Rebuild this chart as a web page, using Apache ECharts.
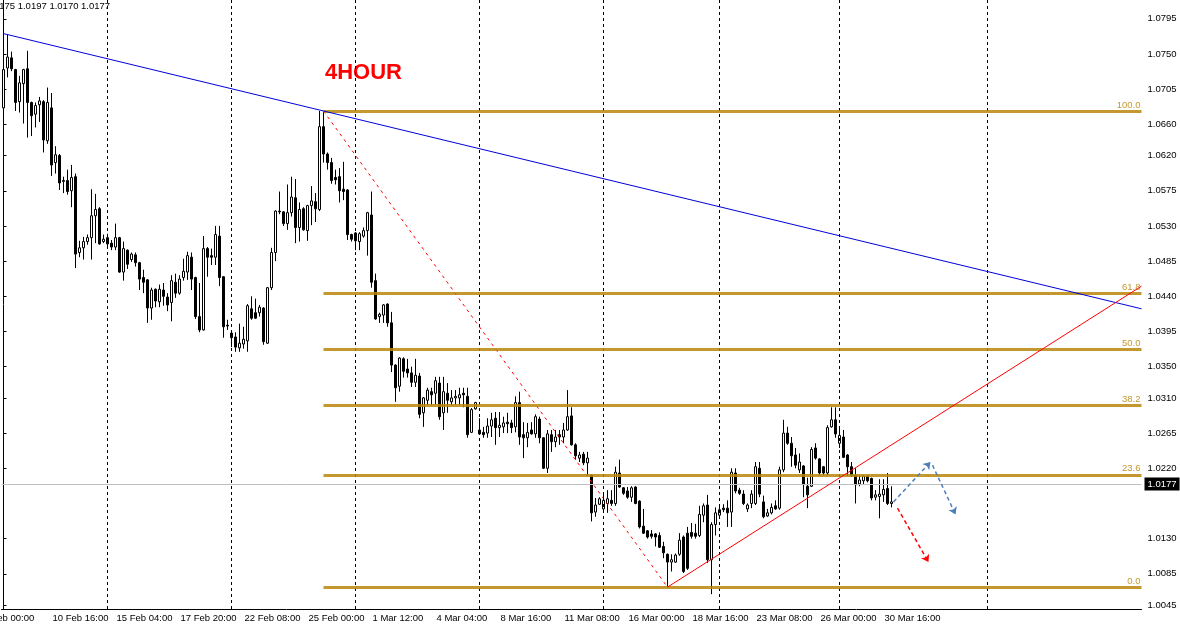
<!DOCTYPE html>
<html>
<head>
<meta charset="utf-8">
<script src="https://cdn.jsdelivr.net/npm/echarts@6/dist/echarts.min.js"></script>
<style>html,body{margin:0;padding:0;background:#fff}#c{width:1180px;height:626px}</style>
</head>
<body>
<div id="c"></div>
<script>
// ---- data (H4 bars, first visible bar = slot 0) ----
const opens = [1.0681,1.0732,1.0745,1.0730,1.0689,1.0712,
1.0731,1.0688,1.0673,1.0685,1.0689,1.0639,1.0681,1.0611,1.0620,1.0588,
1.0588,1.0575,1.0593,1.0496,1.0502,1.0510,1.0515,1.0543,1.0552,1.0510,
1.0515,1.0508,1.0503,1.0515,1.0471,1.0499,1.0487,1.0493,1.0483,1.0464,
1.0461,1.0425,1.0449,1.0433,1.0448,1.0439,1.0432,1.0458,1.0444,1.0464,
1.0471,1.0490,1.0464,1.0414,1.0397,1.0501,1.0492,1.0490,1.0517,1.0465,
1.0403,1.0393,1.0388,1.0374,1.0379,1.0383,1.0424,1.0419,1.0419,1.0425,
1.0380,1.0451,1.0496,1.0549,1.0548,1.0533,1.0547,1.0566,1.0528,1.0552,
1.0524,1.0556,1.0561,1.0551,1.0657,1.0622,1.0611,1.0592,1.0593,1.0577,
1.0576,1.0519,1.0521,1.0510,1.0517,1.0524,1.0544,1.0460,1.0414,1.0416,
1.0430,1.0406,1.0352,1.0325,1.0360,1.0347,1.0342,1.0330,1.0338,1.0291,
1.0307,1.0318,1.0316,1.0329,1.0291,1.0316,1.0305,1.0310,1.0310,1.0316,
1.0312,1.0266,1.0296,1.0269,1.0266,1.0265,1.0274,1.0284,1.0272,1.0273,
1.0279,1.0278,1.0273,1.0304,1.0263,1.0259,1.0269,1.0264,1.0283,1.0259,
1.0220,1.0263,1.0254,1.0263,1.0260,1.0269,1.0287,1.0250,1.0233,1.0238,
1.0227,1.0211,1.0164,1.0174,1.0168,1.0175,1.0179,1.0175,1.0214,1.0195,
1.0191,1.0183,1.0196,1.0178,1.0146,1.0140,1.0136,1.0136,1.0134,1.0120,
1.0110,1.0100,1.0100,1.0110,1.0132,1.0137,1.0138,1.0137,1.0134,1.0160,
1.0173,1.0103,1.0148,1.0160,1.0169,1.0169,1.0164,1.0214,1.0192,1.0187,
1.0168,1.0175,1.0175,1.0220,1.0177,1.0159,1.0163,1.0172,1.0169,1.0218,
1.0265,1.0252,1.0237,1.0218,1.0223,1.0197,1.0197,1.0246,1.0232,1.0222,
1.0214,1.0273,1.0282,1.0252,1.0260,1.0237,1.0222,1.0211,1.0200,1.0204,
1.0210,1.0207,1.0183,1.0184,1.0186,1.0194,1.0175];
const highs = [1.0732,1.0775,1.0753,1.0731,1.0722,1.0731,
1.0754,1.0689,1.0688,1.0695,1.0691,1.0707,1.0700,1.0632,1.0622,1.0593,
1.0602,1.0608,1.0597,1.0511,1.0516,1.0519,1.0577,1.0571,1.0554,1.0519,
1.0520,1.0512,1.0533,1.0516,1.0510,1.0500,1.0496,1.0496,1.0484,1.0474,
1.0462,1.0451,1.0450,1.0455,1.0457,1.0444,1.0467,1.0469,1.0467,1.0488,
1.0497,1.0496,1.0465,1.0457,1.0517,1.0503,1.0501,1.0530,1.0530,1.0466,
1.0410,1.0394,1.0394,1.0405,1.0401,1.0430,1.0440,1.0437,1.0429,1.0426,
1.0452,1.0502,1.0550,1.0574,1.0549,1.0583,1.0593,1.0590,1.0560,1.0554,
1.0557,1.0581,1.0572,1.0677,1.0676,1.0624,1.0617,1.0602,1.0604,1.0612,
1.0577,1.0520,1.0522,1.0522,1.0528,1.0548,1.0574,1.0469,1.0419,1.0430,
1.0431,1.0420,1.0353,1.0362,1.0362,1.0360,1.0350,1.0360,1.0342,1.0311,
1.0323,1.0323,1.0337,1.0337,1.0337,1.0329,1.0320,1.0320,1.0323,1.0323,
1.0323,1.0297,1.0305,1.0284,1.0273,1.0284,1.0291,1.0292,1.0292,1.0286,
1.0291,1.0282,1.0312,1.0318,1.0279,1.0278,1.0279,1.0289,1.0286,1.0260,
1.0269,1.0269,1.0269,1.0269,1.0278,1.0320,1.0298,1.0252,1.0241,1.0241,
1.0241,1.0212,1.0182,1.0183,1.0188,1.0192,1.0192,1.0222,1.0231,1.0196,
1.0196,1.0197,1.0197,1.0179,1.0168,1.0141,1.0141,1.0137,1.0138,1.0126,
1.0111,1.0110,1.0111,1.0137,1.0134,1.0145,1.0150,1.0149,1.0172,1.0175,
1.0186,1.0151,1.0170,1.0172,1.0174,1.0179,1.0220,1.0220,1.0195,1.0192,
1.0175,1.0192,1.0228,1.0228,1.0185,1.0168,1.0175,1.0179,1.0222,1.0282,
1.0273,1.0260,1.0246,1.0239,1.0224,1.0208,1.0247,1.0252,1.0233,1.0223,
1.0275,1.0298,1.0298,1.0272,1.0269,1.0238,1.0228,1.0220,1.0211,1.0211,
1.0211,1.0208,1.0192,1.0206,1.0206,1.0214,1.0197];
const lows = [1.0670,1.0720,1.0728,1.0677,1.0675,1.0661,
1.0643,1.0645,1.0656,1.0663,1.0624,1.0635,1.0594,1.0597,1.0576,1.0572,
1.0570,1.0554,1.0476,1.0490,1.0487,1.0506,1.0487,1.0508,1.0506,1.0508,
1.0503,1.0499,1.0499,1.0470,1.0460,1.0475,1.0484,1.0478,1.0448,1.0444,
1.0406,1.0410,1.0426,1.0426,1.0428,1.0421,1.0408,1.0438,1.0442,1.0460,
1.0461,1.0448,1.0411,1.0394,1.0396,1.0465,1.0480,1.0480,1.0453,1.0387,
1.0397,1.0375,1.0369,1.0369,1.0373,1.0369,1.0410,1.0411,1.0414,1.0378,
1.0379,1.0448,1.0485,1.0545,1.0530,1.0525,1.0542,1.0508,1.0510,1.0524,
1.0511,1.0531,1.0535,1.0549,1.0611,1.0602,1.0584,1.0583,1.0560,1.0563,
1.0512,1.0510,1.0499,1.0499,1.0515,1.0492,1.0451,1.0410,1.0406,1.0406,
1.0401,1.0343,1.0305,1.0318,1.0336,1.0336,1.0324,1.0324,1.0284,1.0273,
1.0301,1.0301,1.0301,1.0282,1.0269,1.0291,1.0301,1.0301,1.0301,1.0298,
1.0259,1.0265,1.0295,1.0263,1.0259,1.0259,1.0260,1.0250,1.0260,1.0265,
1.0265,1.0265,1.0266,1.0250,1.0233,1.0247,1.0263,1.0259,1.0252,1.0219,
1.0214,1.0241,1.0247,1.0250,1.0252,1.0268,1.0249,1.0231,1.0228,1.0224,
1.0211,1.0152,1.0158,1.0173,1.0164,1.0163,1.0172,1.0172,1.0195,1.0186,
1.0181,1.0177,1.0174,1.0143,1.0136,1.0130,1.0130,1.0120,1.0118,1.0105,
1.0068,1.0088,1.0099,1.0108,1.0086,1.0090,1.0130,1.0130,1.0132,1.0151,
1.0099,1.0059,1.0134,1.0158,1.0164,1.0145,1.0145,1.0188,1.0186,1.0173,
1.0164,1.0169,1.0173,1.0183,1.0156,1.0158,1.0161,1.0167,1.0167,1.0215,
1.0250,1.0222,1.0220,1.0214,1.0183,1.0169,1.0196,1.0231,1.0211,1.0211,
1.0211,1.0272,1.0259,1.0246,1.0233,1.0210,1.0209,1.0175,1.0197,1.0199,
1.0202,1.0179,1.0179,1.0156,1.0177,1.0173,1.0170];
const closes = [1.0730,1.0746,1.0731,1.0688,1.0713,1.0730,
1.0688,1.0671,1.0684,1.0690,1.0640,1.0688,1.0608,1.0621,1.0585,1.0587,
1.0574,1.0592,1.0494,1.0502,1.0510,1.0515,1.0543,1.0551,1.0507,1.0513,
1.0507,1.0503,1.0515,1.0471,1.0501,1.0481,1.0494,1.0483,1.0462,1.0458,
1.0425,1.0448,1.0434,1.0449,1.0440,1.0429,1.0460,1.0444,1.0462,1.0472,
1.0492,1.0462,1.0414,1.0397,1.0501,1.0490,1.0490,1.0519,1.0464,1.0401,
1.0402,1.0387,1.0375,1.0380,1.0385,1.0428,1.0412,1.0412,1.0426,1.0382,
1.0451,1.0496,1.0549,1.0548,1.0533,1.0547,1.0567,1.0528,1.0551,1.0525,
1.0556,1.0562,1.0552,1.0657,1.0622,1.0611,1.0588,1.0589,1.0575,1.0574,
1.0519,1.0513,1.0511,1.0520,1.0524,1.0547,1.0458,1.0411,1.0417,1.0429,
1.0406,1.0352,1.0323,1.0361,1.0344,1.0342,1.0330,1.0339,1.0289,1.0310,
1.0320,1.0314,1.0332,1.0286,1.0318,1.0307,1.0310,1.0312,1.0314,1.0314,
1.0263,1.0295,1.0304,1.0264,1.0263,1.0274,1.0282,1.0272,1.0275,1.0278,
1.0277,1.0272,1.0304,1.0260,1.0259,1.0266,1.0264,1.0286,1.0259,1.0220,
1.0264,1.0254,1.0260,1.0260,1.0269,1.0286,1.0250,1.0236,1.0237,1.0227,
1.0233,1.0163,1.0173,1.0181,1.0179,1.0181,1.0175,1.0215,1.0196,1.0188,
1.0183,1.0195,1.0175,1.0145,1.0137,1.0132,1.0133,1.0132,1.0119,1.0112,
1.0100,1.0103,1.0109,1.0128,1.0088,1.0092,1.0133,1.0133,1.0161,1.0172,
1.0103,1.0148,1.0163,1.0167,1.0167,1.0163,1.0215,1.0191,1.0188,1.0175,
1.0173,1.0187,1.0222,1.0187,1.0158,1.0163,1.0170,1.0168,1.0218,1.0265,
1.0252,1.0236,1.0224,1.0228,1.0199,1.0186,1.0244,1.0233,1.0214,1.0214,
1.0272,1.0282,1.0264,1.0262,1.0234,1.0222,1.0211,1.0199,1.0205,1.0210,
1.0204,1.0182,1.0186,1.0187,1.0193,1.0175,1.0177];

const tickLabels = ['8 Feb 00:00','10 Feb 16:00','15 Feb 04:00','17 Feb 20:00','22 Feb 08:00',
  '25 Feb 00:00','1 Mar 12:00','4 Mar 04:00','8 Mar 16:00','11 Mar 08:00',
  '16 Mar 00:00','18 Mar 16:00','23 Mar 08:00','26 Mar 00:00','30 Mar 16:00'];
const firstLabelSlot = -4;    // slot of the first (cut off) time label
const tickStep = 16;          // bars between time labels
const totalSlots = 285;       // bar slots on the axis (data + right shift)
const priceTicks = [1.0795,1.0750,1.0705,1.0660,1.0620,1.0575,1.0530,1.0485,1.0440,
  1.0395,1.0350,1.0310,1.0265,1.0220,1.0130,1.0085,1.0045];
const priceMin = 1.0040, priceMax = 1.0819;

const fibHigh = 1.0677, fibLow = 1.0068, fibStartSlot = 80;
const fibLevels = [0, 23.6, 38.2, 50, 61.8, 100];
const weekSeparators = [26, 57, 88, 119, 150, 179, 209, 246];
const blueTrend = [[0, 1.0776], [284.5, 1.0424]];
const redTrend = [[166, 1.0068], [284.5, 1.0453]];
const fibDiagonal = [[80, 1.0677], [166, 1.0068]];
const blueArrows = [[[222.5, 1.0177], [231.75, 1.0228]], [[232.25, 1.0224], [238, 1.0161]]];
const redArrows = [[[223.5, 1.0169], [231.25, 1.0100]]];
const lastPrice = 1.0177;
const headerText = '1.0175 1.0197 1.0170 1.0177';
const titleText = '4HOUR';

// ---- chart ----
const FONT = '"Liberation Sans", Arial, sans-serif';
const FS = 9.5;
const cats = Array.from({length: totalSlots}, (_, i) => String(i));
const candles = opens.map((o, i) => [o, closes[i], lows[i], highs[i]]);
const fibPrice = l => fibLow + (fibHigh - fibLow) * l / 100;
const labelIdx = i => (i - firstLabelSlot) / tickStep;
const isLabel = i => Number.isInteger(labelIdx(i)) && labelIdx(i) >= 0 && labelIdx(i) < tickLabels.length;

const GRID_LEFT = 1.5, GRID_RIGHT = 38.5, GRID_BOTTOM = 17;
const slotW = (1180 - GRID_LEFT - GRID_RIGHT) / totalSlots;

const chart = echarts.init(document.getElementById('c'), null, {renderer: 'canvas'});
chart.setOption({
  animation: false,
  backgroundColor: '#fff',
  grid: {left: GRID_LEFT, right: GRID_RIGHT, top: 0, bottom: GRID_BOTTOM},
  xAxis: [{
    type: 'category', data: cats, boundaryGap: true,
    axisLine: {lineStyle: {color: '#000', width: 1}},
    axisTick: {alignWithLabel: true, interval: (i) => isLabel(i), length: 4, lineStyle: {color: '#000'}},
    axisLabel: {
      interval: (i) => isLabel(i), showMinLabel: true, showMaxLabel: true, hideOverlap: false,
      formatter: (v, i) => tickLabels[labelIdx(i)] || '',
      align: 'left', color: '#000', fontSize: FS, fontFamily: FONT, margin: 4, padding: [0, 0, 0, 1]
    },
    splitLine: {show: false}
  }, {
    type: 'value', min: -0.5, max: totalSlots - 0.5, show: false
  }],
  yAxis: {
    type: 'value', position: 'right', min: priceMin, max: priceMax,
    axisLine: {show: true, lineStyle: {color: '#000', width: 1}},
    axisTick: {show: true, customValues: priceTicks, length: 3, lineStyle: {color: '#000'}},
    axisLabel: {customValues: priceTicks, formatter: v => v.toFixed(4), color: '#000',
      fontSize: FS, fontFamily: FONT, margin: 6},
    splitLine: {show: false}
  },
  series: [
    {
      type: 'line', name: 'separators', xAxisIndex: 1, data: [], z: 1, silent: true,
      markLine: {
        silent: true, symbol: ['none', 'none'], animation: false,
        data: weekSeparators.map(v => ({xAxis: v, lineStyle: {color: '#000', type: [3, 3], width: 1}, label: {show: false}}))
          .concat([{yAxis: lastPrice, lineStyle: {color: '#c0c0c0', type: 'solid', width: 1},
            label: {show: true, position: 'end', formatter: lastPrice.toFixed(4), color: '#fff',
              backgroundColor: '#000', padding: [2, 3, 1, 3], fontSize: FS, fontFamily: FONT, distance: 3}}])
      }
    },
    {
      type: 'candlestick', name: 'price', xAxisIndex: 0, data: candles, barWidth: 2, z: 3,
      itemStyle: {color: '#fff', color0: '#000', borderColor: '#000', borderColor0: '#000', borderWidth: 1}
    },
    {
      type: 'line', name: 'fib', xAxisIndex: 1, data: fibDiagonal, symbol: 'none', z: 4, silent: true,
      lineStyle: {color: '#ff0000', width: 1, type: [3, 4]},
      markLine: {
        silent: true, symbol: ['none', 'none'], animation: false,
        lineStyle: {color: '#b8860b', width: 3, type: 'solid', opacity: 0.85},
        label: {show: true, position: 'insideEndTop', formatter: '{b}', color: '#b8860b', fontSize: FS,
          fontFamily: FONT, distance: 1},
        data: fibLevels.map(l => [{coord: [fibStartSlot, fibPrice(l)], name: l.toFixed(1)},
          {coord: [totalSlots - 0.5, fibPrice(l)]}])
      }
    },
    {
      type: 'line', name: 'blueTrend', xAxisIndex: 1, data: blueTrend, symbol: 'none', z: 5, silent: true,
      lineStyle: {color: '#0000dd', width: 1}
    },
    {
      type: 'line', name: 'redTrend', xAxisIndex: 1, data: redTrend, symbol: 'none', z: 5, silent: true,
      lineStyle: {color: '#ff0000', width: 1},
      markLine: {
        silent: true, symbol: ['none', 'arrow'], symbolSize: 7, animation: false,
        label: {show: false},
        data: blueArrows.map(a => [{coord: a[0], lineStyle: {color: '#4f7fb8', type: [4, 3], width: 1.5}},
          {coord: a[1]}])
          .concat(redArrows.map(a => [{coord: a[0], lineStyle: {color: '#ff0000', type: [4, 3], width: 1.5}},
          {coord: a[1]}]))
      }
    }
  ],
  graphic: [
    // cut-off first time label (its slot lies left of the plot)
    {type: 'text', x: GRID_LEFT + (firstLabelSlot + 0.5) * slotW - 4, y: 626 - GRID_BOTTOM + 4,
      style: {text: tickLabels[0], fill: '#000', font: FS + 'px ' + FONT}},
    {type: 'text', x: -14, y: 1, style: {text: headerText, fill: '#000', font: FS + 'px ' + FONT}},
    {type: 'text', x: 325, y: 62, style: {text: titleText, fill: '#ff0000', font: 'bold 22px "Liberation Sans", Arial, sans-serif'}}
  ]
});
</script>
</body>
</html>
